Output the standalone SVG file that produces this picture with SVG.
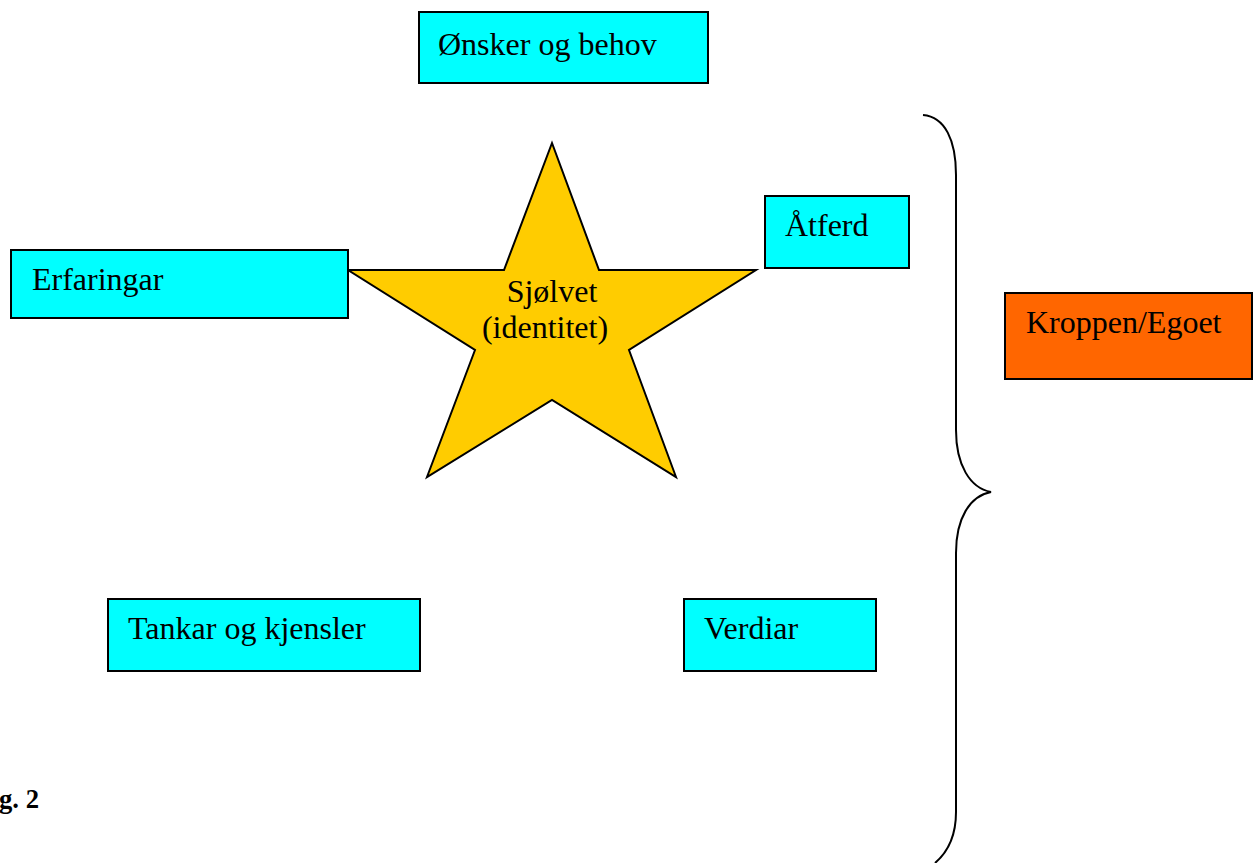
<svg xmlns="http://www.w3.org/2000/svg" width="1253" height="863" viewBox="0 0 1253 863">
<style>
.box{fill:#00ffff;stroke:#000;stroke-width:2}
.org{fill:#ff6600;stroke:#000;stroke-width:2}
.t{font-family:"Liberation Serif","Times New Roman",serif;font-size:32px;fill:#000}
.b{font-family:"Liberation Serif","Times New Roman",serif;font-size:26.7px;font-weight:bold;fill:#000}
.brace{fill:none;stroke:#000;stroke-width:2}
</style>
<rect width="1253" height="863" fill="#fff"/>
<g id="onsker"><rect class="box" x="419" y="12" width="289" height="71"/><text class="t" x="438" y="55">Ønsker og behov</text></g>
<g id="star"><polygon points="552,143 599,270 756,270 629,350 676,477 552,400 427,477 475,350 348,270 504,270" fill="#ffcc00" stroke="#000" stroke-width="2" stroke-linejoin="miter"/>
<text class="t" x="552" y="302" text-anchor="middle">Sjølvet</text><text class="t" x="545" y="338" text-anchor="middle">(identitet)</text></g>
<g id="atferd"><rect class="box" x="765" y="196" width="144" height="72"/><text class="t" x="785" y="236">Åtferd</text></g>
<g id="erfaringar"><rect class="box" x="11" y="250" width="337" height="68"/><text class="t" x="32" y="290">Erfaringar</text></g>
<g id="kroppen"><rect class="org" x="1005" y="293" width="247" height="86"/><text class="t" x="1026" y="333">Kroppen/Egoet</text></g>
<g id="tankar"><rect class="box" x="108" y="599" width="312" height="72"/><text class="t" x="128" y="639">Tankar og kjensler</text></g>
<g id="verdiar"><rect class="box" x="684" y="599" width="192" height="72"/><text class="t" x="704" y="639">Verdiar</text></g>
<g id="connectors"><path class="brace" d="M923,115 C945,117 956,140 956,175 L956,430 C956,465 970,488 991,492 C970,496 956,518 956,553 L956,812 C956,835 948,852 935,863"/></g>
<text class="b" x="-1" y="808">g. 2</text>
</svg>
